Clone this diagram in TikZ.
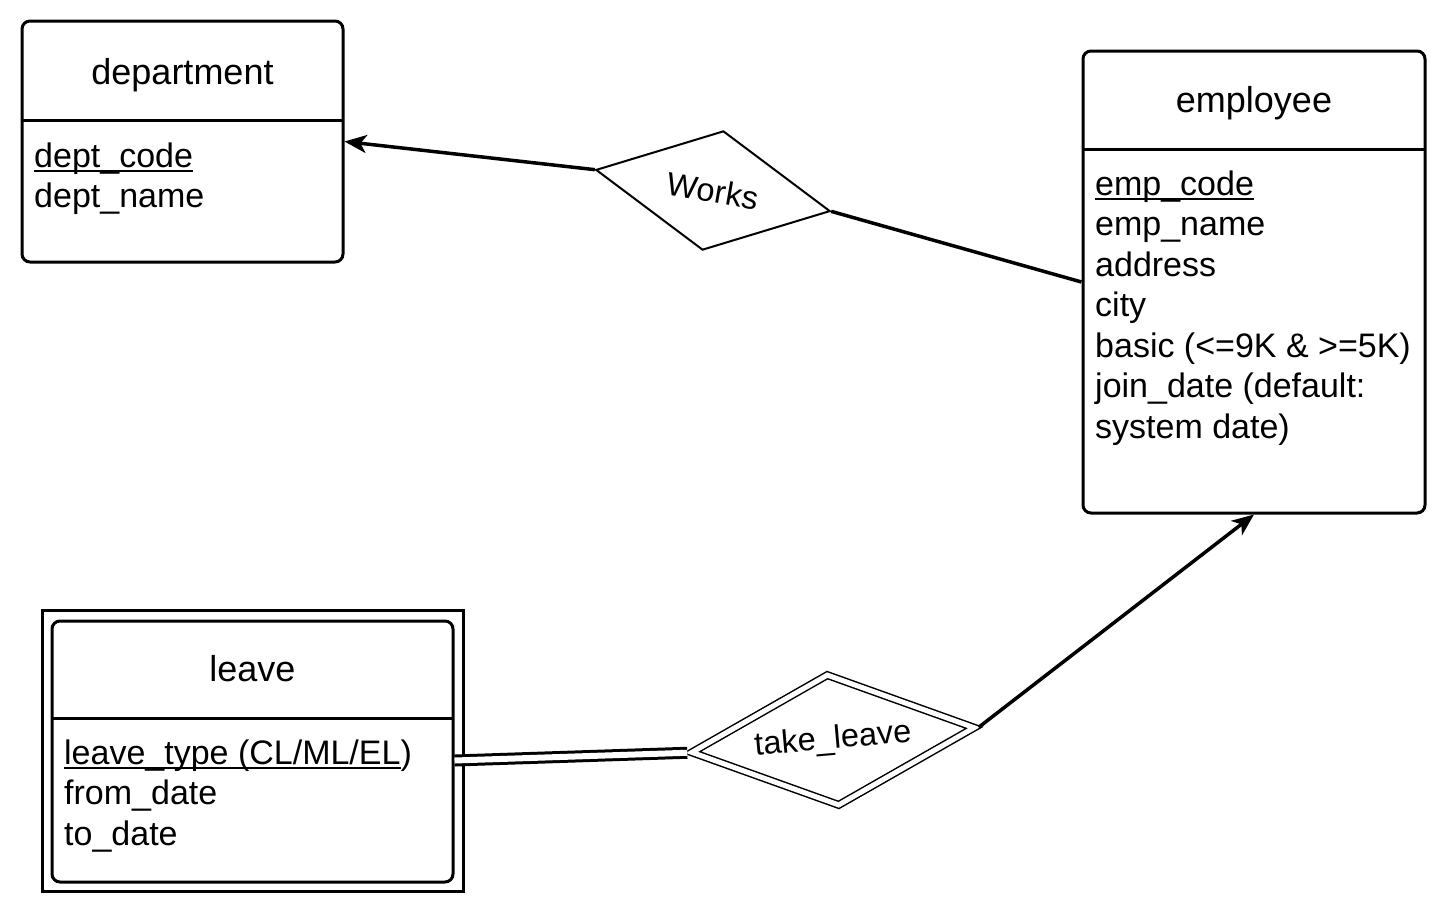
\documentclass[tikz,border=0pt]{standalone}
\usepackage{fontspec}
\setmainfont{Liberation Sans}
\usetikzlibrary{arrows.meta}
\usetikzlibrary{shapes.geometric}
\newsavebox{\keybox}
\newcommand{\keyattr}[1]{\sbox{\keybox}{#1}\rlap{\rule[-4.5pt]{\wd\keybox}{2pt}}\usebox{\keybox}}

\tikzset{
entity/.style={draw, line width=3, rounded corners=8, inner sep=0},
etitle/.style={anchor=base, inner sep=0, font=\fontsize{36}{42}\selectfont},
attr/.style={anchor=north west, align=left, inner sep=0, font=\fontsize{34}{40.5}\selectfont},
rel/.style={draw, shape=diamond, shape aspect=2, inner sep=0, font=\fontsize{32.5}{38}\selectfont},
conn/.style={line width=3.5},
tip/.style={-{Stealth[length=22, width=18, inset=6]}},
}

\begin{document}
\begin{tikzpicture}[x=1pt, y=-1pt]
\useasboundingbox (0,0) rectangle (1446,914);

\node[entity, minimum width=321, minimum height=241] (dept) at (182.5,141.5) {};
\draw[line width=3] (dept.north west) ++(0,101) -- ++(321,0);
\node[etitle] (deptname) at (182.5,84.5) {department};
\node[attr] (deptattr) at (34,142.6) {\keyattr{dept\_code}\\dept\_name};

\node[entity, minimum width=342, minimum height=462] (emp) at (1254,282) {};
\draw[line width=3] (emp.north west) ++(0,100) -- ++(342,0);
\node[etitle] (empname) at (1254,112.5) {employee};
\node[attr] (empattr) at (1095,170.6) {\keyattr{emp\_code}\\emp\_name\\address\\city\\basic (<=9K \& >=5K)\\join\_date (default:\\system date)};

\draw[line width=3] (42,610) rectangle (463,891);
\node[entity, minimum width=401, minimum height=261] (leave) at (252.5,751.5) {};
\draw[line width=3] (leave.north west) ++(0,99) -- ++(401,0);
\node[etitle] (leavename) at (252.5,681) {leave};
\node[attr] (leaveattr) at (64,739.6) {\keyattr{leave\_type (CL/ML/EL})\\from\_date\\to\_date};

\node[rel, line width=2, rotate=-10, minimum width=238, minimum height=121] (works) at (713,190.5) {Works};
\node[rel, line width=1.5, double, double distance=5, outer sep=3.25, rotate=5, minimum width=286, minimum height=133] (take) at (833,740) {take\_leave};

\draw[conn, tip] (works.west) -- (dept.east);
\draw[conn] (works.east) -- (emp.west);
\draw[conn, tip] (take.east) -- (emp.south);
\draw[line width=3, double, double distance=6] ([yshift=-9pt]leave.east) -- (take.west);
\end{tikzpicture}
\end{document}
